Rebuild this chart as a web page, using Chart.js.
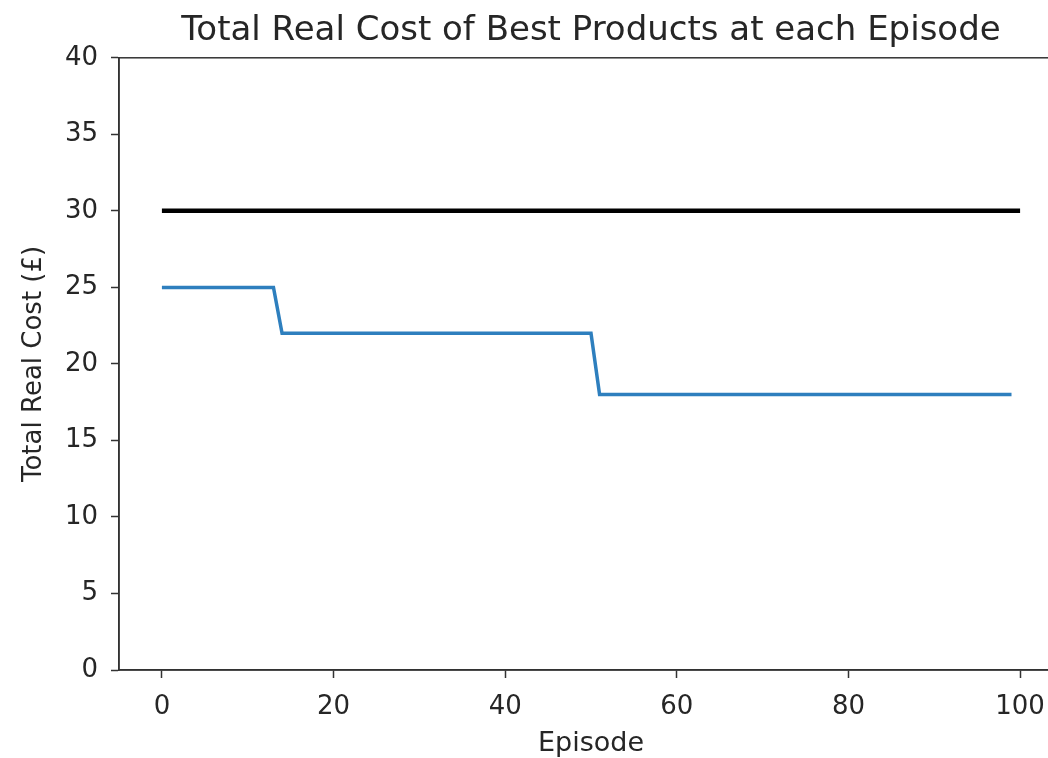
<!DOCTYPE html>
<html lang="en">
<head>
  <meta charset="UTF-8" />
  <title>Total Real Cost of Best Products at each Episode</title>
  <script src="https://cdn.jsdelivr.net/npm/chart.js"></script>
  <style>
    html, body { margin: 0; padding: 0; background: #fff; overflow: hidden; }
    #wrap { width: 1080px; height: 758px; }
  </style>
</head>
<body>
  <div id="wrap"><canvas id="grafico"></canvas></div>
  <script>
    // best product cost: only the breakpoints of the step line
    const bestEpisodes = [0, 13, 14, 50, 51, 99];
    const bestCost = [25, 25, 22, 22, 18, 18];
    // budget line
    const budgetEpisodes = [0, 100];
    const budgetCost = [30, 30];
    const xTicks = [0, 20, 40, 60, 80, 100];
    const yTicks = [0, 5, 10, 15, 20, 25, 30, 35, 40];

    const toPoints = (xs, ys) => xs.map((x, i) => ({ x: x, y: ys[i] }));
    const texto = "#262626";
    const eixo = "#333333";
    const fonte = "DejaVu Sans";

    // matplotlib style box round the plot area
    const moldura = {
      id: "moldura",
      afterDraw(chart) {
        const a = chart.chartArea, ctx = chart.ctx;
        ctx.save();
        ctx.strokeStyle = eixo;
        ctx.lineWidth = 1.5;
        ctx.strokeRect(a.left, a.top, a.right - a.left, a.bottom - a.top);
        ctx.restore();
      }
    };

    new Chart(document.getElementById("grafico"), {
      type: "line",
      data: {
        datasets: [
          {
            data: toPoints(budgetEpisodes, budgetCost),
            borderColor: "#000000",
            borderWidth: 4.5,
            pointRadius: 0,
            tension: 0
          },
          {
            data: toPoints(bestEpisodes, bestCost),
            borderColor: "#2e7fbe",
            borderWidth: 3.5,
            pointRadius: 0,
            tension: 0
          }
        ]
      },
      plugins: [moldura],
      options: {
        responsive: true,
        maintainAspectRatio: false,
        animation: false,
        layout: { padding: { left: 0, right: 17, top: 0, bottom: 0 } },
        plugins: {
          legend: { display: false },
          tooltip: { enabled: false },
          title: {
            display: true,
            fullSize: false,
            text: "Total Real Cost of Best Products at each Episode",
            color: texto,
            font: { family: fonte, size: 34, weight: "normal" },
            padding: { top: 11, bottom: 6 }
          }
        },
        scales: {
          x: {
            type: "linear",
            min: -5,
            max: 105,
            afterBuildTicks: s => { s.ticks = xTicks.map(v => ({ value: v })); },
            afterFit: s => { s.height = 88; },
            grid: { drawOnChartArea: false, tickLength: 8, tickColor: eixo, tickWidth: 1.5 },
            border: { color: eixo, width: 1.5 },
            ticks: { color: texto, padding: 14, font: { family: fonte, size: 26 } },
            title: {
              display: true,
              text: "Episode",
              color: texto,
              font: { family: fonte, size: 27, lineHeight: 1.05 },
              padding: { top: 0, bottom: 0 }
            }
          },
          y: {
            min: 0,
            max: 40,
            afterBuildTicks: s => { s.ticks = yTicks.map(v => ({ value: v })); },
            afterFit: s => { s.width = 119; },
            grid: { drawOnChartArea: false, tickLength: 8, tickColor: eixo, tickWidth: 1.5 },
            border: { color: eixo, width: 1.5 },
            ticks: { color: texto, padding: 13, font: { family: fonte, size: 26 } },
            title: {
              display: true,
              text: "Total Real Cost (£)",
              color: texto,
              font: { family: fonte, size: 26 },
              padding: { top: 19, bottom: 0 }
            }
          }
        }
      }
    });
  </script>
</body>
</html>
